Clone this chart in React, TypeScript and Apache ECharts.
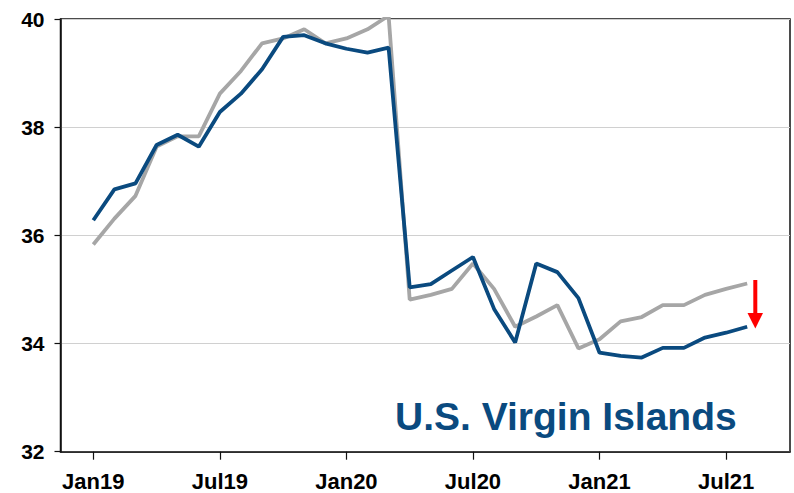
import React, { useEffect, useRef } from "react";
import * as echarts from "echarts";

const months = [
  "Jan19", "Feb19", "Mar19", "Apr19", "May19", "Jun19", "Jul19", "Aug19", "Sep19", "Oct19", "Nov19", "Dec19",
  "Jan20", "Feb20", "Mar20", "Apr20", "May20", "Jun20", "Jul20", "Aug20", "Sep20", "Oct20", "Nov20", "Dec20",
  "Jan21", "Feb21", "Mar21", "Apr21", "May21", "Jun21", "Jul21", "Aug21",
];

const blueSeries = [
  36.28, 36.85, 36.96, 37.67, 37.86, 37.64, 38.28, 38.62, 39.07, 39.67, 39.70, 39.55,
  39.45, 39.38, 39.47, 35.04, 35.10, 35.35, 35.60, 34.64, 34.02, 35.48, 35.32, 34.84,
  33.83, 33.77, 33.74, 33.92, 33.92, 34.11, 34.20, 34.31,
];

const graySeries = [
  35.83, 36.31, 36.73, 37.64, 37.83, 37.83, 38.62, 39.04, 39.55, 39.64, 39.81, 39.55,
  39.64, 39.81, 40.06, 34.81, 34.90, 35.01, 35.48, 35.01, 34.31, 34.50, 34.71, 33.91,
  34.08, 34.41, 34.49, 34.71, 34.71, 34.90, 35.01, 35.11,
];

const tickIndices = [0, 6, 12, 18, 24, 30];
const yTicks = [32, 34, 36, 38, 40];
const titleText = "U.S. Virgin Islands";

const BLUE = "#0A4A7F";
const GRAY = "#A6A6A6";

export default function App() {
  const ref = useRef<HTMLDivElement>(null);

  useEffect(() => {
    if (!ref.current) return;
    const chart = echarts.init(ref.current, null, { renderer: "svg" });
    const toPairs = (arr: number[]) => arr.map((v, i) => [i, v]);
    chart.setOption({
      animation: false,
      backgroundColor: "#fff",
      textStyle: { fontFamily: "Liberation Sans, Arial, sans-serif" },
      grid: {
        left: 60.5,
        top: 19,
        right: 4,
        bottom: 41.3,
        show: true,
        borderColor: "#111",
        borderWidth: 1.5,
        backgroundColor: "transparent",
      },
      xAxis: {
        type: "value",
        min: -1.555,
        max: 33.03,
        axisLine: { show: true, onZero: false, lineStyle: { color: "#111", width: 1.5 } },
        splitLine: { show: false },
        axisTick: {
          show: true,
          inside: false,
          length: 8,
          customValues: tickIndices,
          lineStyle: { color: "#111", width: 1.2 },
        },
        axisLabel: {
          show: true,
          customValues: tickIndices,
          formatter: (v: number) => months[Math.round(v)] ?? "",
          margin: 19,
          fontSize: 22,
          fontWeight: "bold",
          color: "#000",
          fontFamily: "Liberation Sans, Arial, sans-serif",
        },
      },
      yAxis: {
        type: "value",
        min: 32,
        max: 40,
        interval: 2,
        axisLine: { show: true, onZero: false, lineStyle: { color: "#111", width: 1.5 } },
        axisTick: { show: true, length: 6, lineStyle: { color: "#111", width: 1.2 } },
        splitLine: { show: true, lineStyle: { color: "#D0D0D0", width: 1.2 } },
        axisLabel: {
          show: true,
          customValues: yTicks,
          margin: 16,
          fontSize: 21,
          fontWeight: "bold",
          color: "#000",
          fontFamily: "Liberation Sans, Arial, sans-serif",
        },
      },
      series: [
        {
          type: "line",
          data: toPairs(graySeries),
          showSymbol: false,
          symbol: "none",
          clip: true,
          lineStyle: { color: GRAY, width: 3.8 },
          z: 2,
        },
        {
          type: "line",
          data: toPairs(blueSeries),
          showSymbol: false,
          symbol: "none",
          clip: true,
          lineStyle: { color: BLUE, width: 3.8 },
          z: 3,
        },
      ],
      graphic: [
        {
          type: "text",
          x: 395,
          y: 416,
          style: {
            text: titleText,
            fill: BLUE,
            fontSize: 39,
            fontWeight: "bold",
            fontFamily: "Liberation Sans, Arial, sans-serif",
            textAlign: "left",
            textVerticalAlign: "middle",
          },
        },
        {
          type: "rect",
          shape: { x: 753.3, y: 280, width: 4, height: 34 },
          style: { fill: "#FF0000" },
        },
        {
          type: "polygon",
          shape: { points: [[747.5, 313], [763, 313], [755.3, 328.5]] },
          style: { fill: "#FF0000" },
        },
      ],
    });
    return () => chart.dispose();
  }, []);

  return (
    <div
      ref={ref}
      style={{ position: "fixed", left: 0, top: 0, width: 794, height: 493, background: "#fff" }}
    />
  );
}
